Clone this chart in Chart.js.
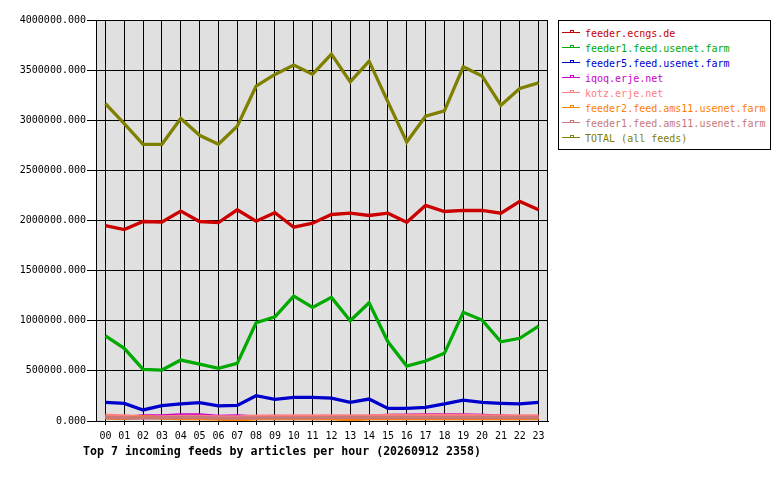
<!DOCTYPE html>
<html>
<head>
<meta charset="utf-8">
<script src="https://cdn.jsdelivr.net/npm/chart.js@4/dist/chart.umd.min.js"></script>
<style>
  html, body { margin: 0; padding: 0; background: #fff; }
  #wrap { position: relative; width: 780px; height: 480px; }
  canvas { position: absolute; left: 0; top: 0; }
  #legend {
    position: absolute; left: 558px; top: 20px; width: 213px; height: 130px;
    border: 1px solid #000; background: #fff; box-sizing: border-box;
    font-family: "DejaVu Sans Mono", monospace; font-size: 10px;
    padding-top: 5px;
  }
  .row { height: 15px; line-height: 15px; white-space: nowrap; position: relative; }
  .mk { position: absolute; left: 3px; top: 6px; width: 18px; height: 1px; }
  .sq { position: absolute; left: 8px; top: -2px; width: 2px; height: 1px; border: 1px solid; border-bottom: none; background: #fff; }
  .tx { position: absolute; left: 26px; top: 0; }
</style>
</head>
<body>
<div id="wrap">
  <canvas id="c" width="780" height="480"></canvas>
  <div id="legend"></div>
</div>
<script>
const hours = ["00","01","02","03","04","05","06","07","08","09","10","11","12","13","14","15","16","17","18","19","20","21","22","23"];

const seriesNames = ["feeder.ecngs.de","feeder1.feed.usenet.farm","feeder5.feed.usenet.farm","iqoq.erje.net","kotz.erje.net","feeder2.feed.ams11.usenet.farm","feeder1.feed.ams11.usenet.farm","TOTAL (all feeds)"];

const ecngs = [1950000,1910000,1990000,1985000,2093000,1990000,1980000,2107000,1993000,2077000,1933000,1973000,2060000,2073000,2050000,2073000,1983000,2150000,2090000,2100000,2100000,2073000,2190000,2107000];
const usenetFarm1 = [850000,725000,515000,508000,608000,568000,525000,575000,980000,1040000,1246000,1133000,1233000,1000000,1180000,790000,548000,598000,675000,1084000,1007000,790000,825000,947000];
const usenetFarm5 = [186000,176000,110000,153000,170000,183000,150000,156000,252000,216000,236000,236000,229000,186000,219000,126000,126000,136000,170000,209000,186000,176000,170000,186000];
const iqoq = [40000,35000,50000,50000,60000,60000,45000,52000,40000,45000,40000,40000,40000,40000,45000,55000,58000,62000,62000,60000,55000,50000,40000,40000];
const kotz = [55000,50000,40000,40000,45000,45000,42000,42000,48000,48000,50000,50000,50000,50000,50000,55000,55000,55000,55000,55000,52000,50000,50000,50000];
const ams11Feeder2 = [30000,25000,40000,30000,25000,25000,20000,5000,25000,25000,25000,25000,25000,10000,25000,25000,25000,25000,25000,25000,25000,25000,25000,25000];
const ams11Feeder1 = [35000,30000,30000,32000,35000,35000,28000,28000,32000,32000,32000,32000,35000,35000,35000,35000,35000,35000,35000,35000,35000,35000,35000,35000];
const total = [3167000,2967000,2760000,2760000,3017000,2850000,2760000,2940000,3340000,3457000,3550000,3460000,3660000,3383000,3590000,3183000,2783000,3040000,3093000,3533000,3440000,3150000,3317000,3373000];

const yTicks = [0,500000,1000000,1500000,2000000,2500000,3000000,3500000,4000000];

const colors = ["#cc0000","#00aa00","#0000cc","#cc00cc","#ff8080","#ff8000","#c87878","#808000"];
const allValues = [ecngs, usenetFarm1, usenetFarm5, iqoq, kotz, ams11Feeder2, ams11Feeder1, total];

const datasets = allValues.map((vals, i) => ({
  label: seriesNames[i],
  data: vals,
  borderColor: colors[i],
  backgroundColor: colors[i],
  borderWidth: 3.3,
  pointRadius: 0,
  tension: 0,
  fill: false,
  order: allValues.length - i
}));

const FONT = '"DejaVu Sans Mono", monospace';

const plotBg = {
  id: 'plotBg',
  beforeDraw(chart) {
    const {ctx, chartArea: a} = chart;
    ctx.save();
    ctx.fillStyle = '#fff';
    ctx.fillRect(0, 0, chart.width, chart.height);
    ctx.fillStyle = '#e0e0e0';
    ctx.fillRect(a.left, a.top, a.right - a.left, a.bottom - a.top);
    ctx.restore();
  },
  beforeDatasetsDraw(chart) {
    const {ctx, chartArea: a} = chart;
    ctx.save();
    ctx.strokeStyle = '#000';
    ctx.lineWidth = 1;
    ctx.strokeRect(Math.round(a.left) + 0.5, Math.round(a.top) + 0.5, Math.round(a.right - a.left) - 1, Math.round(a.bottom - a.top));
    ctx.restore();
  },
  afterDraw(chart) {
    const {ctx} = chart;
    ctx.save();
    ctx.fillStyle = '#000';
    ctx.font = 'bold 11.6px ' + FONT;
    ctx.textBaseline = 'middle';
    ctx.textAlign = 'left';
    ctx.fillText('Top 7 incoming feeds by articles per hour (20260912 2358)', 83, 452);
    ctx.restore();
  }
};

const chart = new Chart(document.getElementById('c'), {
  type: 'line',
  data: { labels: hours, datasets },
  options: {
    responsive: false,
    animation: false,
    devicePixelRatio: 1,
    layout: { padding: { left: 0, right: 232, top: 20, bottom: 0 } },
    plugins: { legend: { display: false }, tooltip: { enabled: false }, title: { display: false } },
    scales: {
      x: {
        offset: true,
        grid: { color: '#000', lineWidth: 1, tickLength: 4, offset: false, drawOnChartArea: true },
        border: { color: '#000', width: 1 },
        ticks: { color: '#000', font: { family: FONT, size: 10 }, maxRotation: 0, autoSkip: false, padding: 5 },
        afterFit(s) { s.height = 59; }
      },
      y: {
        min: 0, max: 4000000,
        afterBuildTicks(s) { s.ticks = yTicks.map(v => ({ value: v })); },
        ticks: { color: '#000', font: { family: FONT, size: 10 }, padding: 1, callback: v => Number(v).toFixed(3) },
        grid: { color: '#000', lineWidth: 1, tickLength: 9 },
        border: { color: '#000', width: 1 },
        afterFit(s) { s.width = 96; }
      }
    }
  },
  plugins: [plotBg]
});

// legend built from the chart's datasets
const leg = document.getElementById('legend');
chart.data.datasets.forEach(ds => {
  const row = document.createElement('div');
  row.className = 'row';
  const mk = document.createElement('span');
  mk.className = 'mk';
  mk.style.background = ds.borderColor;
  const sq = document.createElement('span');
  sq.className = 'sq';
  sq.style.borderColor = ds.borderColor;
  mk.appendChild(sq);
  const tx = document.createElement('span');
  tx.className = 'tx';
  tx.style.color = ds.borderColor;
  tx.textContent = ds.label;
  row.appendChild(mk);
  row.appendChild(tx);
  leg.appendChild(row);
});
</script>
</body>
</html>
